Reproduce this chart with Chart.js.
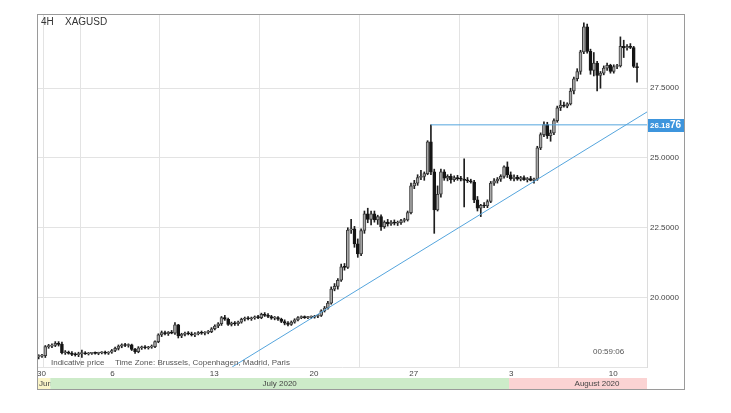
<!DOCTYPE html>
<html>
<head>
<meta charset="utf-8">
<script src="https://cdn.jsdelivr.net/npm/chart.js@4.4.0/dist/chart.umd.min.js"></script>
<style>
  body { margin: 0; background: #fff; }
  canvas { display: block; }
</style>
</head>
<body>
<canvas id="silverChart" width="731" height="413"></canvas>
<script>
// XAGUSD, 4H candles, Jun 30 - Aug 11 2020 (index 0 = first candle shown)
const opens = [
  17.88, 17.90, 17.92, 18.24, 18.26, 18.28, 18.36, 18.32, 18.02, 18.04,
  18.00, 17.96, 17.95, 17.99, 18.02, 17.98, 18.00, 18.01, 18.00, 18.02,
  18.03, 18.01, 18.04, 18.10, 18.18, 18.26, 18.30, 18.28, 18.30, 18.14,
  18.06, 18.20, 18.22, 18.20, 18.22, 18.24, 18.42, 18.66, 18.74, 18.70,
  18.76, 18.72, 19.02, 18.62, 18.68, 18.72, 18.70, 18.66, 18.70, 18.74,
  18.72, 18.75, 18.78, 18.88, 18.98, 19.06, 19.28, 19.22, 19.04, 19.08,
  19.06, 19.12, 19.22, 19.26, 19.24, 19.27, 19.30, 19.28, 19.40, 19.36,
  19.32, 19.26, 19.28, 19.22, 19.14, 19.08, 19.04, 19.12, 19.20, 19.28,
  19.30, 19.28, 19.30, 19.30, 19.33, 19.36, 19.52, 19.62, 19.80, 20.30,
  20.40, 20.62, 21.10, 21.08, 22.42, 22.46, 21.92, 21.56, 22.40, 23.00,
  22.80, 23.00, 22.78, 22.90, 22.54, 22.70, 22.64, 22.70, 22.66, 22.68,
  22.76, 22.78, 23.04, 24.00, 24.10, 24.30, 24.34, 24.44, 25.58, 24.50,
  23.14, 23.70, 24.50, 24.28, 24.34, 24.22, 24.30, 24.26, 24.24, 24.20,
  24.18, 24.14, 23.50, 23.20, 23.30, 23.28, 23.44, 24.10, 24.18, 24.24,
  24.34, 24.68, 24.40, 24.26, 24.32, 24.24, 24.30, 24.22, 24.26, 24.20,
  24.24, 25.36, 25.84, 26.20, 25.80, 25.90, 26.34, 26.80, 26.90, 26.86,
  26.94, 27.40, 27.84, 28.10, 28.80, 29.70, 28.82, 28.14, 28.40, 27.96,
  28.04, 28.22, 28.32, 28.10, 28.28, 28.30, 29.00, 28.94, 29.00, 28.96,
  28.28
];
const highs = [
  17.95, 17.96, 18.28, 18.32, 18.34, 18.42, 18.42, 18.40, 18.10, 18.08,
  18.06, 18.02, 18.04, 18.12, 18.06, 18.03, 18.04, 18.05, 18.04, 18.06,
  18.08, 18.06, 18.14, 18.22, 18.30, 18.34, 18.36, 18.34, 18.33, 18.18,
  18.24, 18.26, 18.28, 18.25, 18.30, 18.45, 18.70, 18.80, 18.80, 18.78,
  18.82, 19.10, 19.04, 18.72, 18.76, 18.78, 18.76, 18.74, 18.78, 18.80,
  18.78, 18.82, 18.92, 19.02, 19.10, 19.32, 19.36, 19.26, 19.12, 19.14,
  19.16, 19.26, 19.30, 19.32, 19.30, 19.34, 19.36, 19.44, 19.46, 19.42,
  19.36, 19.32, 19.32, 19.26, 19.20, 19.14, 19.16, 19.24, 19.32, 19.34,
  19.34, 19.33, 19.34, 19.36, 19.40, 19.56, 19.68, 19.86, 20.38, 20.50,
  20.68, 21.20, 21.22, 22.50, 22.80, 22.55, 22.10, 22.46, 23.10, 23.20,
  23.10, 23.10, 22.95, 22.96, 22.75, 22.80, 22.76, 22.78, 22.74, 22.80,
  22.84, 23.10, 24.10, 24.20, 24.40, 24.56, 24.50, 25.62, 26.19, 24.60,
  24.00, 24.60, 24.58, 24.40, 24.42, 24.36, 24.38, 24.34, 24.97, 24.30,
  24.24, 24.20, 23.62, 23.34, 23.40, 23.50, 24.16, 24.26, 24.30, 24.40,
  24.72, 24.86, 24.50, 24.40, 24.38, 24.34, 24.36, 24.30, 24.34, 24.28,
  25.42, 25.90, 26.30, 26.28, 26.00, 26.40, 26.86, 27.06, 27.00, 26.98,
  27.50, 27.90, 28.20, 28.86, 29.84, 29.80, 28.90, 28.78, 28.46, 28.10,
  28.30, 28.40, 28.36, 28.34, 28.36, 29.34, 29.22, 29.06, 29.10, 29.00,
  28.40
];
const lows = [
  17.80, 17.85, 17.85, 18.18, 18.20, 18.24, 18.26, 17.98, 17.96, 17.97,
  17.92, 17.90, 17.88, 17.85, 17.96, 17.94, 17.96, 17.97, 17.95, 17.98,
  17.97, 17.96, 18.00, 18.06, 18.12, 18.20, 18.24, 18.22, 18.10, 18.00,
  18.02, 18.14, 18.16, 18.15, 18.18, 18.20, 18.38, 18.60, 18.66, 18.64,
  18.70, 18.68, 18.55, 18.56, 18.62, 18.66, 18.62, 18.60, 18.66, 18.68,
  18.66, 18.70, 18.74, 18.84, 18.92, 19.00, 19.18, 19.00, 18.98, 19.00,
  19.00, 19.08, 19.16, 19.20, 19.18, 19.22, 19.24, 19.24, 19.32, 19.28,
  19.22, 19.20, 19.18, 19.10, 19.02, 18.98, 19.00, 19.08, 19.16, 19.24,
  19.25, 19.24, 19.25, 19.26, 19.28, 19.32, 19.48, 19.58, 19.76, 20.24,
  20.30, 20.58, 20.98, 21.04, 22.30, 21.80, 21.44, 21.50, 22.30, 22.68,
  22.60, 22.70, 22.62, 22.40, 22.48, 22.56, 22.58, 22.60, 22.58, 22.62,
  22.70, 22.74, 23.00, 23.90, 24.02, 24.22, 24.20, 24.40, 24.40, 22.30,
  23.10, 23.60, 24.20, 24.18, 24.10, 24.16, 24.20, 24.18, 23.25, 24.12,
  24.10, 23.40, 23.10, 22.90, 23.22, 23.22, 23.40, 24.02, 24.10, 24.16,
  24.28, 24.30, 24.20, 24.18, 24.20, 24.18, 24.20, 24.14, 24.18, 24.10,
  24.20, 25.30, 25.76, 25.70, 25.60, 25.84, 26.28, 26.70, 26.82, 26.80,
  26.90, 27.30, 27.76, 28.00, 28.74, 28.76, 28.00, 27.94, 27.40, 27.50,
  27.98, 28.14, 28.04, 28.04, 28.20, 28.26, 28.60, 28.86, 28.92, 28.24,
  27.72
];
const closes = [
  17.90, 17.92, 18.24, 18.26, 18.28, 18.36, 18.32, 18.02, 18.04, 18.00,
  17.96, 17.95, 17.99, 18.02, 17.98, 18.00, 18.01, 18.00, 18.02, 18.03,
  18.01, 18.04, 18.10, 18.18, 18.26, 18.30, 18.28, 18.30, 18.14, 18.06,
  18.20, 18.22, 18.20, 18.22, 18.24, 18.42, 18.66, 18.74, 18.70, 18.76,
  18.72, 19.02, 18.62, 18.68, 18.72, 18.70, 18.66, 18.70, 18.74, 18.72,
  18.75, 18.78, 18.88, 18.98, 19.06, 19.28, 19.22, 19.04, 19.08, 19.06,
  19.12, 19.22, 19.26, 19.24, 19.27, 19.30, 19.28, 19.40, 19.36, 19.32,
  19.26, 19.28, 19.22, 19.14, 19.08, 19.04, 19.12, 19.20, 19.28, 19.30,
  19.28, 19.30, 19.30, 19.33, 19.36, 19.52, 19.62, 19.80, 20.30, 20.40,
  20.62, 21.10, 21.08, 22.42, 22.46, 21.92, 21.56, 22.40, 23.00, 22.80,
  23.00, 22.78, 22.90, 22.54, 22.70, 22.64, 22.70, 22.66, 22.68, 22.76,
  22.78, 23.04, 24.00, 24.10, 24.30, 24.34, 24.44, 25.58, 24.50, 23.14,
  23.70, 24.50, 24.28, 24.34, 24.22, 24.30, 24.26, 24.24, 24.20, 24.18,
  24.14, 23.50, 23.20, 23.30, 23.28, 23.44, 24.10, 24.18, 24.24, 24.34,
  24.68, 24.40, 24.26, 24.32, 24.24, 24.30, 24.22, 24.26, 24.20, 24.24,
  25.36, 25.84, 26.20, 25.80, 25.90, 26.34, 26.80, 26.90, 26.86, 26.94,
  27.40, 27.84, 28.10, 28.80, 29.70, 28.82, 28.14, 28.40, 27.96, 28.04,
  28.22, 28.32, 28.10, 28.28, 28.30, 29.00, 28.94, 29.00, 28.96, 28.28,
  28.24
];

// day ticks sit on the candle boundary where a new day / week starts
const dayTicks = [-0.5, 3.5, 21.5, 51.5, 81.5, 111.5, 141.5, 171.5];
const dayLabels = ["30", "", "6", "13", "20", "27", "3", "10"];
const yTicks = [20, 22.5, 25, 27.5];
const months = ["Jun", "July 2020", "August 2020"];
const monthStarts = [-0.5, 3.5, 141.5];
const resistance = 26.1876;
const resistanceFrom = 118;
const trendX = [58.2, 183];
const trendY = [17.51, 26.65];

const FONT = "'Liberation Sans', Arial, sans-serif";
const BLUE = "#55a5dd";

const idx = closes.map((_, i) => i);
const wicks = idx.map((i) => ({ x: i, y: [lows[i], highs[i]] }));
const bodies = idx.map((i) => ({ x: i, y: [opens[i], closes[i]] }));
const bodyFill = idx.map((i) => (closes[i] >= opens[i] ? "#a9a9a9" : "#151515"));
const bodyEdge = idx.map((i) => (closes[i] >= opens[i] ? "#3c3c3c" : "#151515"));

const extras = {
  id: "extras",
  beforeDraw(chart) {
    const ctx = chart.ctx;
    ctx.save();
    ctx.fillStyle = "#ffffff";
    ctx.fillRect(0, 0, chart.width, chart.height);
    ctx.restore();
  },
  afterDraw(chart) {
    const { ctx, chartArea: a, scales } = chart;
    const x = scales.x;
    const y = scales.y;
    ctx.save();

    // month band
    const bandTop = a.bottom + 11;
    const bandH = 11;
    const fills = ["#fbf5c8", "#cdebc9", "#fbd3d3"];
    const starts = monthStarts.map((v) => Math.max(a.left, x.getPixelForValue(v)));
    const ends = [starts[1], starts[2], a.right];
    ctx.font = "8px " + FONT;
    ctx.textBaseline = "middle";
    for (let m = 0; m < months.length; m++) {
      ctx.fillStyle = fills[m];
      ctx.fillRect(starts[m], bandTop, ends[m] - starts[m], bandH);
      ctx.fillStyle = "#444";
      if (m === 0) {
        ctx.textAlign = "left";
        ctx.fillText(months[m], starts[m] + 2, bandTop + bandH / 2 + 0.5);
      } else {
        ctx.textAlign = "center";
        const right = m === months.length - 1 ? 685 : ends[m];
        ctx.fillText(months[m], (starts[m] + right) / 2, bandTop + bandH / 2 + 0.5);
      }
    }

    // header + footer texts
    ctx.textAlign = "left";
    ctx.fillStyle = "#333";
    ctx.font = "10px " + FONT;
    ctx.fillText("4H", 41, 22);
    ctx.fillText("XAGUSD", 65, 22);
    ctx.fillStyle = "#555";
    ctx.font = "8px " + FONT;
    ctx.fillText("Indicative price", 51, 363);
    ctx.fillText("Time Zone: Brussels, Copenhagen, Madrid, Paris", 115, 363);
    ctx.fillText("00:59:06", 593, 352);

    // price tag for the horizontal line
    const py = Math.round(y.getPixelForValue(resistance));
    ctx.fillStyle = "#3d95dd";
    ctx.fillRect(a.right + 1, py - 6, 36, 13);
    ctx.fillStyle = "#ffffff";
    ctx.font = "bold 8px " + FONT;
    const txt = resistance.toFixed(4);
    const head = txt.slice(0, 5);
    ctx.fillText(head, a.right + 3, py + 1);
    const w = ctx.measureText(head).width;
    ctx.font = "bold 10px " + FONT;
    ctx.fillText(txt.slice(5), a.right + 3 + w, py + 0.5);

    // frame
    ctx.strokeStyle = "#9a9a9a";
    ctx.lineWidth = 1;
    ctx.strokeRect(a.left + 0.5, a.top + 0.5, 684 - a.left, bandTop + bandH - a.top);
    ctx.restore();
  }
};

const ctx = document.getElementById("silverChart").getContext("2d");
new Chart(ctx, {
  type: "bar",
  data: {
    datasets: [
      {
        type: "line",
        data: trendX.map((v, i) => ({ x: v, y: trendY[i] })),
        borderColor: BLUE,
        borderWidth: 1,
        pointRadius: 0,
        order: 0,
      },
      {
        type: "line",
        data: [{ x: resistanceFrom, y: resistance }, { x: 183, y: resistance }],
        borderColor: BLUE,
        borderWidth: 1,
        pointRadius: 0,
        order: 0,
      },
      {
        data: bodies,
        backgroundColor: bodyFill,
        borderColor: bodyEdge,
        borderWidth: 1,
        borderSkipped: false,
        barThickness: 3,
        minBarLength: 1,
        grouped: false,
        order: 1,
      },
      {
        data: wicks,
        backgroundColor: "#1e1e1e",
        barThickness: 1,
        grouped: false,
        order: 2,
      },
    ],
  },
  options: {
    responsive: false,
    animation: false,
    layout: { padding: { left: 37, top: 14, right: 0, bottom: 0 } },
    plugins: {
      legend: { display: false },
      tooltip: { enabled: false },
    },
    scales: {
      x: {
        type: "linear",
        min: -0.5,
        max: 183,
        offset: false,
        afterFit: (s) => { s.height = 46; },
        afterBuildTicks: (s) => { s.ticks = dayTicks.map((v) => ({ value: v })); },
        grid: { color: "#e3e3e3", drawTicks: false },
        border: { color: "#e3e3e3" },
        ticks: {
          align: "start",
          padding: 2,
          autoSkip: false,
          maxRotation: 0,
          color: "#444",
          font: { family: FONT, size: 8 },
          callback: (v, i) => dayLabels[i],
        },
      },
      y: {
        type: "linear",
        position: "right",
        min: 17.51,
        max: 30.16,
        afterFit: (s) => { s.width = 84; },
        afterBuildTicks: (s) => { s.ticks = yTicks.map((v) => ({ value: v })); },
        grid: { color: "#e3e3e3", drawTicks: false },
        border: { color: "#dcdcdc" },
        ticks: {
          padding: 3,
          color: "#444",
          font: { family: FONT, size: 8 },
          callback: (v) => Number(v).toFixed(4),
        },
      },
    },
  },
  plugins: [extras],
});
</script>
</body>
</html>
